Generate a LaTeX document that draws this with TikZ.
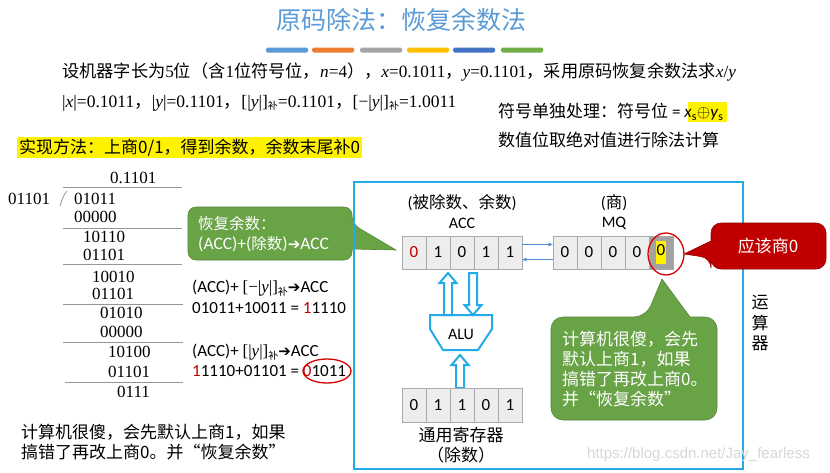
\documentclass[tikz,border=0pt]{standalone}
\usepackage{fontspec}
\setmainfont{Carlito}
\newfontfamily\cjk{Noto Sans CJK SC}
\newfontfamily\tms{Liberation Serif}
\newfontfamily\dvs{DejaVu Sans}
\newfontfamily\lsans{Liberation Sans}
\usetikzlibrary{arrows.meta,calc}
\newcommand\fsz[2]{\fontsize{#1}{#2}\selectfont}
\definecolor{ttl}{RGB}{91,155,213}
\definecolor{bA}{RGB}{91,155,213}
\definecolor{bB}{RGB}{237,125,49}
\definecolor{bC}{RGB}{165,165,165}
\definecolor{bD}{RGB}{255,192,0}
\definecolor{bE}{RGB}{68,114,196}
\definecolor{bF}{RGB}{112,173,71}
\definecolor{cyanb}{RGB}{36,170,230}
\definecolor{gfill}{RGB}{104,163,70}
\definecolor{gdraw}{RGB}{84,135,55}
\definecolor{rfill}{RGB}{192,0,0}
\definecolor{rdraw}{RGB}{150,0,0}
\definecolor{dred}{RGB}{192,0,0}
\definecolor{cellf}{RGB}{237,237,237}
\definecolor{celld}{RGB}{170,170,170}
\definecolor{divl}{RGB}{150,150,150}
\definecolor{thinb}{RGB}{80,140,210}
\definecolor{wm}{RGB}{215,215,215}
\tikzset{
  txt/.style={inner sep=0pt, anchor=west},
  ctxt/.style={inner sep=0pt},
  bar/.style={rounded corners=1.5pt},
  cell/.style={draw=celld, fill=cellf, minimum width=24pt, minimum height=33pt, inner sep=0pt, font=\fsz{17}{17}},
  divline/.style={draw=divl, line width=0.8pt},
  num/.style={inner sep=0pt, anchor=west, font=\tms\fsz{17}{17}},
  hollow/.style={draw=cyanb, fill=white, line width=2pt, line join=miter},
  thinarr/.style={draw=thinb, line width=0.8pt, -{Stealth[length=5pt,width=4pt]}},
  calloutg/.style={fill=gfill, draw=gdraw, line width=0.6pt},
  calloutr/.style={fill=rfill, draw=rdraw, line width=0.6pt},
  redring/.style={draw=red!85!black, line width=1.3pt},
}
\begin{document}
\begin{tikzpicture}[x=1pt,y=-1pt]
\useasboundingbox (0,0) rectangle (830,472);
\fill[white] (0,0) rectangle (830,472);

% title
\node[ctxt, text=ttl, font=\cjk\fsz{25}{25}] (title) at (401,20) {原码除法：恢复余数法};
\fill[bA,bar] (266,47.5) rectangle (308,52.5);
\fill[bB,bar] (312,47.5) rectangle (354,52.5);
\fill[bC,bar] (360,47.5) rectangle (402,52.5);
\fill[bD,bar] (407,47.5) rectangle (449,52.5);
\fill[bE,bar] (453,47.5) rectangle (495,52.5);
\fill[bF,bar] (501,47.5) rectangle (543,52.5);

% statement lines
\node[txt] (l1) at (62,72) {\fsz{17.2}{18}\cjk 设机器字长为\tms 5\cjk 位（含\tms 1\cjk 位符号位，\tms\textit{n}=4\cjk ），\tms\textit{x}=0.1011\cjk ，\tms\textit{y}=0.1101\cjk ，采用原码恢复余数法求\tms\textit{x}/\textit{y}};
\node[txt] (l2) at (62,103) {\fsz{17.5}{18}\tms|\textit{x}|=0.1011\cjk ，\tms|\textit{y}|=0.1101\cjk ，\tms[|\textit{y}|]\raisebox{-0.35ex}{\cjk\fsz{10}{10}补}=0.1101\cjk ，\tms[−|\textit{y}|]\raisebox{-0.35ex}{\cjk\fsz{10}{10}补}=1.0011};

\fill[yellow] (688,102) rectangle (727,122);
\node[txt] (sg) at (498,112) {\fsz{17}{17}\cjk 符号单独处理：符号位\rmfamily\ =\ \textit{x}\textsubscript{s}$\oplus$\textit{y}\textsubscript{s}};
\node[txt] (sv) at (498,140) {\fsz{17}{17}\cjk 数值位取绝对值进行除法计算};

% highlighted method
\fill[yellow] (17,137) rectangle (362,158);
\node[txt] (method) at (19,147.5) {\fsz{17}{17}\cjk 实现方法：上商0/1，得到余数，余数末尾补0};

% long division
\node[num] (q) at (110,178) {0.1101};
\draw[divline] (63,187) -- (182,187);
\draw[divline] (60,206) .. controls (62,199) and (64,194) .. (67,191);
\node[num] (dv) at (8,199) {01101};
\node[num] (d1) at (74,199) {01011};
\node[num] (d2) at (74,217) {00000};
\draw[divline] (63,228) -- (182,228);
\node[num] (d3) at (83,237) {10110};
\node[num] (d4) at (83,255) {01101};
\draw[divline] (63,264.5) -- (182,264.5);
\node[num] (d5) at (92,277) {10010};
\node[num] (d6) at (92,294) {01101};
\draw[divline] (63,304) -- (183,304);
\node[num] (d7) at (100,313) {01010};
\node[num] (d8) at (100,332) {00000};
\draw[divline] (63,342) -- (183,342);
\node[num] (d9) at (108,352) {10100};
\node[num] (d10) at (108,372) {01101};
\draw[divline] (65,382) -- (183,382);
\node[num] (d11) at (117,392) {0111};

% bottom-left remark
\node[txt, align=left, font=\cjk\fsz{17}{20}] (remark) at (21,442) {计算机很傻，会先默认上商1，如果\\搞错了再改上商0。并“恢复余数”};

% green callout 1
\path[calloutg] (270,260) [rounded corners=8pt] -- (188,260) -- (188,207) -- (352,207) -- (352,224) [sharp corners] -- (396,250) -- (352,249) [rounded corners=8pt] -- (352,260) -- cycle;
\node[txt, text=white, align=left, font=\fsz{15.5}{20}] (cg1) at (198,234) {{\cjk 恢复余数：}\\{\fsz{17.5}{20}(ACC)+(}{\cjk 除数}{\fsz{17.5}{20})}{\dvs\fsz{15}{20}➔}{\fsz{17.5}{20}ACC}};

% formula texts
\node[txt] (r1) at (192,288) {\fsz{17}{17}(ACC)+ {\tms[−|\textit{y}|]}\raisebox{-0.4ex}{\cjk\fsz{10}{10}补}{\dvs\fsz{15}{15}➔}ACC};
\node[txt] (r2) at (192,308) {\fsz{17}{17}01011+10011 = \textcolor{dred}{1}1110};
\node[txt] (r3) at (192,352) {\fsz{17}{17}(ACC)+ {\tms[|\textit{y}|]}\raisebox{-0.4ex}{\cjk\fsz{10}{10}补}{\dvs\fsz{15}{15}➔}ACC};
\node[txt] (r4) at (192,371) {\fsz{17}{17}\textcolor{dred}{1}1110+01101 = \textcolor{dred}{0}1011};
\draw[redring] (327,371) ellipse [x radius=24, y radius=12];

% arithmetic unit box
\draw[cyanb, line width=2pt] (354,182) rectangle (743,469);
\node[ctxt, font=\fsz{17}{17}] (u1) at (760,303) {\cjk 运};
\node[ctxt, font=\fsz{17}{17}] (u2) at (760,323) {\cjk 算};
\node[ctxt, font=\fsz{17}{17}] (u3) at (760,343) {\cjk 器};

% ACC register
\node[ctxt] (accl1) at (462,203) {\fsz{16.5}{17}(\cjk 被除数、余数\rmfamily)};
\node[ctxt] (accl2) at (462,223) {\fsz{16}{16}ACC};
\node[cell] (a1) at (414,252.5) {\textcolor{dred}{0}};
\node[cell] (a2) at (438,252.5) {1};
\node[cell] (a3) at (462,252.5) {0};
\node[cell] (a4) at (486,252.5) {1};
\node[cell] (a5) at (510,252.5) {1};

% MQ register
\node[ctxt] (mql1) at (614,203) {\fsz{16.5}{17}(\cjk 商\rmfamily)};
\node[ctxt] (mql2) at (614,223) {\fsz{16}{16}MQ};
\node[cell] (m1) at (565,252.5) {0};
\node[cell] (m2) at (589,252.5) {0};
\node[cell] (m3) at (613,252.5) {0};
\node[cell] (m4) at (637,252.5) {0};
\node[cell, fill=celld!95!black] (m5) at (661,252.5) {\colorbox{yellow}{\kern-2.5pt\strut 0\kern-2.5pt}};

\draw[thinarr] ($(a5.east)+(0,-8)$) -- ($(m1.west)+(0,-8)$);
\draw[thinarr] ($(m1.west)+(0,7)$) -- ($(a5.east)+(0,7)$);

\draw[redring] (666,254) ellipse [x radius=18, y radius=21];

% red callout
\path[calloutr] (768,269) [rounded corners=10pt] -- (711,269) -- (711,258) [sharp corners] -- (684,254) -- (711,241) [rounded corners=10pt] -- (711,223) -- (826,223) -- (826,269) -- cycle;
\node[ctxt, text=white] (rc) at (768,246) {\fsz{17}{17}\cjk 应该商0};

% ALU
\path[hollow] (430,315) -- (492,315) -- (492,329) -- (478,350) -- (443,350) -- (430,329) -- cycle;
\node[ctxt] (alu) at (461,334) {\fsz{16}{16}ALU};

% hollow arrows
\path[hollow] (444,315) -- (444,283) -- (439.5,283) -- (448,273) -- (456.5,283) -- (452,283) -- (452,315) -- cycle;
\path[hollow] (469,273) -- (469,305) -- (464.5,305) -- (473,315) -- (481.5,305) -- (477,305) -- (477,273) -- cycle;
\path[hollow] (456,388) -- (456,365) -- (451.5,365) -- (460,355) -- (468.5,365) -- (464,365) -- (464,388) -- cycle;

% general register
\node[cell, minimum height=34pt] (g1) at (414,405) {0};
\node[cell, minimum height=34pt] (g2) at (438,405) {1};
\node[cell, minimum height=34pt] (g3) at (462,405) {1};
\node[cell, minimum height=34pt] (g4) at (486,405) {0};
\node[cell, minimum height=34pt] (g5) at (510,405) {1};
\node[ctxt] (gl1) at (461,435) {\cjk\fsz{17}{17}通用寄存器};
\node[ctxt] (gl2) at (461,455) {\cjk\fsz{17}{17}（除数）};

% green callout 2
\path[calloutg] (551,368) [rounded corners=12pt] -- (551,317) -- (646,317) [sharp corners] -- (662,279) -- (690,317) [rounded corners=12pt] -- (717,317) -- (717,420) -- (551,420) -- cycle;
\node[txt, text=white, align=left, font=\cjk\fsz{17}{20}] (cg2) at (562,369) {计算机很傻，会先\\默认上商1，如果\\搞错了再改上商0。\\并“恢复余数”};

% watermark
\node[txt, text=wm] (wmk) at (587,455) {\lsans\fsz{15}{15}https://blog.csdn.net/Jay\_fearless};
\end{tikzpicture}
\end{document}
